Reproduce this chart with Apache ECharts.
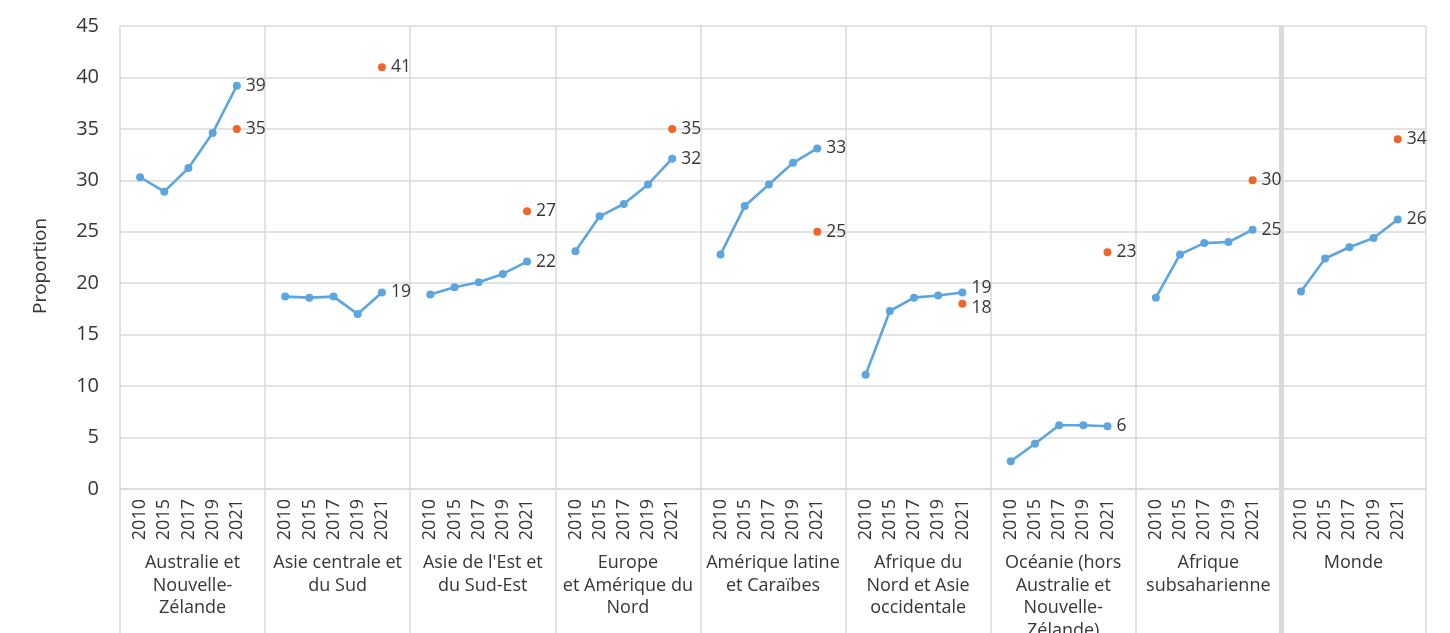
<!DOCTYPE html>
<html lang="fr">
<head>
<meta charset="utf-8">
<title>Proportion par région, 2010–2021</title>
<script src="https://cdn.jsdelivr.net/npm/echarts@6/dist/echarts.min.js"></script>
<style>
  html, body { margin: 0; padding: 0; background: #ffffff; overflow: hidden; }
  #chart { width: 1450px; height: 633px; }
</style>
</head>
<body>
<div id="chart"></div>
<script>
// Années affichées dans chaque région
const YEARS = ['2010', '2015', '2017', '2019', '2021'];

// Régions (libellés du second niveau de l'axe)
const REGIONS = [
  'Australie et\nNouvelle-\nZélande',
  'Asie centrale et\ndu Sud',
  "Asie de l'Est et\ndu Sud-Est",
  'Europe\net Amérique du\nNord',
  'Amérique latine\net Caraïbes',
  'Afrique du\nNord et Asie\noccidentale',
  'Océanie (hors\nAustralie et\nNouvelle-\nZélande)',
  'Afrique\nsubsaharienne',
  'Monde'
];

// Série temporelle (ligne bleue), une liste par région
const australieNZ        = [30.3, 28.9, 31.2, 34.6, 39.2];
const asieCentraleSud    = [18.7, 18.6, 18.7, 17.0, 19.1];
const asieEstSudEst      = [18.9, 19.6, 20.1, 20.9, 22.1];
const europeAmNord       = [23.1, 26.5, 27.7, 29.6, 32.1];
const ameriqueLatine     = [22.8, 27.5, 29.6, 31.7, 33.1];
const afriqueNordAsieOcc = [11.1, 17.3, 18.6, 18.8, 19.1];
const oceanieHorsAusNZ   = [2.7, 4.4, 6.2, 6.2, 6.1];
const afriqueSub         = [18.6, 22.8, 23.9, 24.0, 25.2];
const monde              = [19.2, 22.4, 23.5, 24.4, 26.2];

// Point isolé de 2021 (orange), un par région
const ponctuel2021 = [35, 41, 27, 35, 25, 18, 23, 30, 34];

// Graduations de l'axe vertical
const Y_MIN = 0, Y_MAX = 45, Y_STEP = 5;

const TREND = [australieNZ, asieCentraleSud, asieEstSudEst, europeAmNord,
  ameriqueLatine, afriqueNordAsieOcc, oceanieHorsAusNZ, afriqueSub, monde];

const FONT = '"Open Sans", "Noto Sans", sans-serif';
const TEXT = '#363636';
const GRID_COLOR = '#DADADA';
const BLUE = '#5CA5DE';
const ORANGE = '#F2652A';

// Étiquettes de valeur : décalages verticaux là où les deux points se touchent
const blueLabelShift = { 5: -4 };
const orangeLabelShift = { 5: 4 };

function valueLabel(dy) {
  return {
    show: true,
    position: 'right',
    distance: 5,
    offset: [0, dy || 0],
    fontFamily: FONT,
    fontSize: 17.5,
    color: TEXT,
    opacity: 1,
    formatter: p => String(Math.round(p.value))
  };
}

// Axe des années : cinq années puis un emplacement vide par région
const yearCats = [];
const blueData = [];
const orangeData = [];
TREND.forEach((vals, g) => {
  vals.forEach((v, i) => {
    yearCats.push(YEARS[i]);
    const last = i === vals.length - 1;
    blueData.push(last ? { value: v, label: valueLabel(blueLabelShift[g]) } : v);
    orangeData.push(last ? { value: ponctuel2021[g], label: valueLabel(orangeLabelShift[g]) } : null);
  });
  yearCats.push('');
  blueData.push(null);
  orangeData.push(null);
});

const chart = echarts.init(document.getElementById('chart'), null, { renderer: 'canvas', width: 1450, height: 633 });

const gridLine = { color: GRID_COLOR, width: 1.5 };
const PLOT_TOP = 26, PLOT_H = 463, BELOW = 144;

chart.setOption({
  animation: false,
  backgroundColor: '#ffffff',
  grid: [
    { left: 120, width: 1306, top: PLOT_TOP, height: PLOT_H, containLabel: false, outerBoundsMode: 'none' },
    { left: 128, width: 1306, top: PLOT_TOP, height: PLOT_H, containLabel: false, outerBoundsMode: 'none' }
  ],
  xAxis: [
    {
      type: 'category',
      gridIndex: 0,
      data: REGIONS,
      boundaryGap: true,
      axisLine: { show: true, lineStyle: gridLine },
      axisTick: { show: true, interval: 0, length: BELOW, lineStyle: gridLine },
      splitLine: { show: true, interval: 0, lineStyle: gridLine },
      axisLabel: {
        interval: 0,
        margin: 63,
        fontFamily: FONT,
        fontSize: 18,
        lineHeight: 22.5,
        color: TEXT,
        align: 'center',
        verticalAlign: 'top'
      }
    },
    {
      type: 'category',
      gridIndex: 1,
      data: yearCats,
      boundaryGap: true,
      axisLine: { show: false },
      axisTick: { show: false },
      splitLine: { show: false },
      axisLabel: {
        interval: 0,
        rotate: 90,
        margin: 10,
        fontFamily: FONT,
        fontSize: 18,
        color: TEXT
      }
    },
    {
      // séparateur épais avant « Monde »
      type: 'value',
      gridIndex: 0,
      position: 'top',
      min: 0,
      max: REGIONS.length,
      axisLine: { show: false },
      axisLabel: { show: false },
      splitLine: { show: false },
      axisTick: {
        show: true,
        inside: true,
        length: PLOT_H + BELOW,
        customValues: [REGIONS.length - 1],
        lineStyle: { color: GRID_COLOR, width: 5 }
      }
    }
  ],
  yAxis: [
    {
      type: 'value',
      gridIndex: 0,
      min: Y_MIN,
      max: Y_MAX,
      interval: Y_STEP,
      axisLine: { show: false },
      axisTick: { show: false },
      splitLine: { show: true, lineStyle: gridLine },
      axisLabel: { margin: 21, fontFamily: FONT, fontSize: 20, color: TEXT },
      name: 'Proportion',
      nameLocation: 'middle',
      nameGap: 70,
      nameTextStyle: { fontFamily: FONT, fontSize: 19, color: TEXT, padding: [0, 17, 0, 0] }
    },
    {
      type: 'value',
      gridIndex: 1,
      min: Y_MIN,
      max: Y_MAX,
      interval: Y_STEP,
      show: false
    }
  ],
  series: [
    {
      name: 'Évolution',
      type: 'line',
      xAxisIndex: 1,
      yAxisIndex: 1,
      data: blueData,
      connectNulls: false,
      showAllSymbol: true,
      symbol: 'circle',
      symbolSize: 8,
      itemStyle: { color: BLUE, opacity: 1 },
      lineStyle: { color: BLUE, width: 2.6 },
      label: { show: false },
      z: 3
    },
    {
      name: '2021',
      type: 'scatter',
      xAxisIndex: 1,
      yAxisIndex: 1,
      data: orangeData,
      symbol: 'circle',
      symbolSize: 8,
      itemStyle: { color: ORANGE, opacity: 1 },
      label: { show: false },
      z: 4
    }
  ]
});
</script>
</body>
</html>
